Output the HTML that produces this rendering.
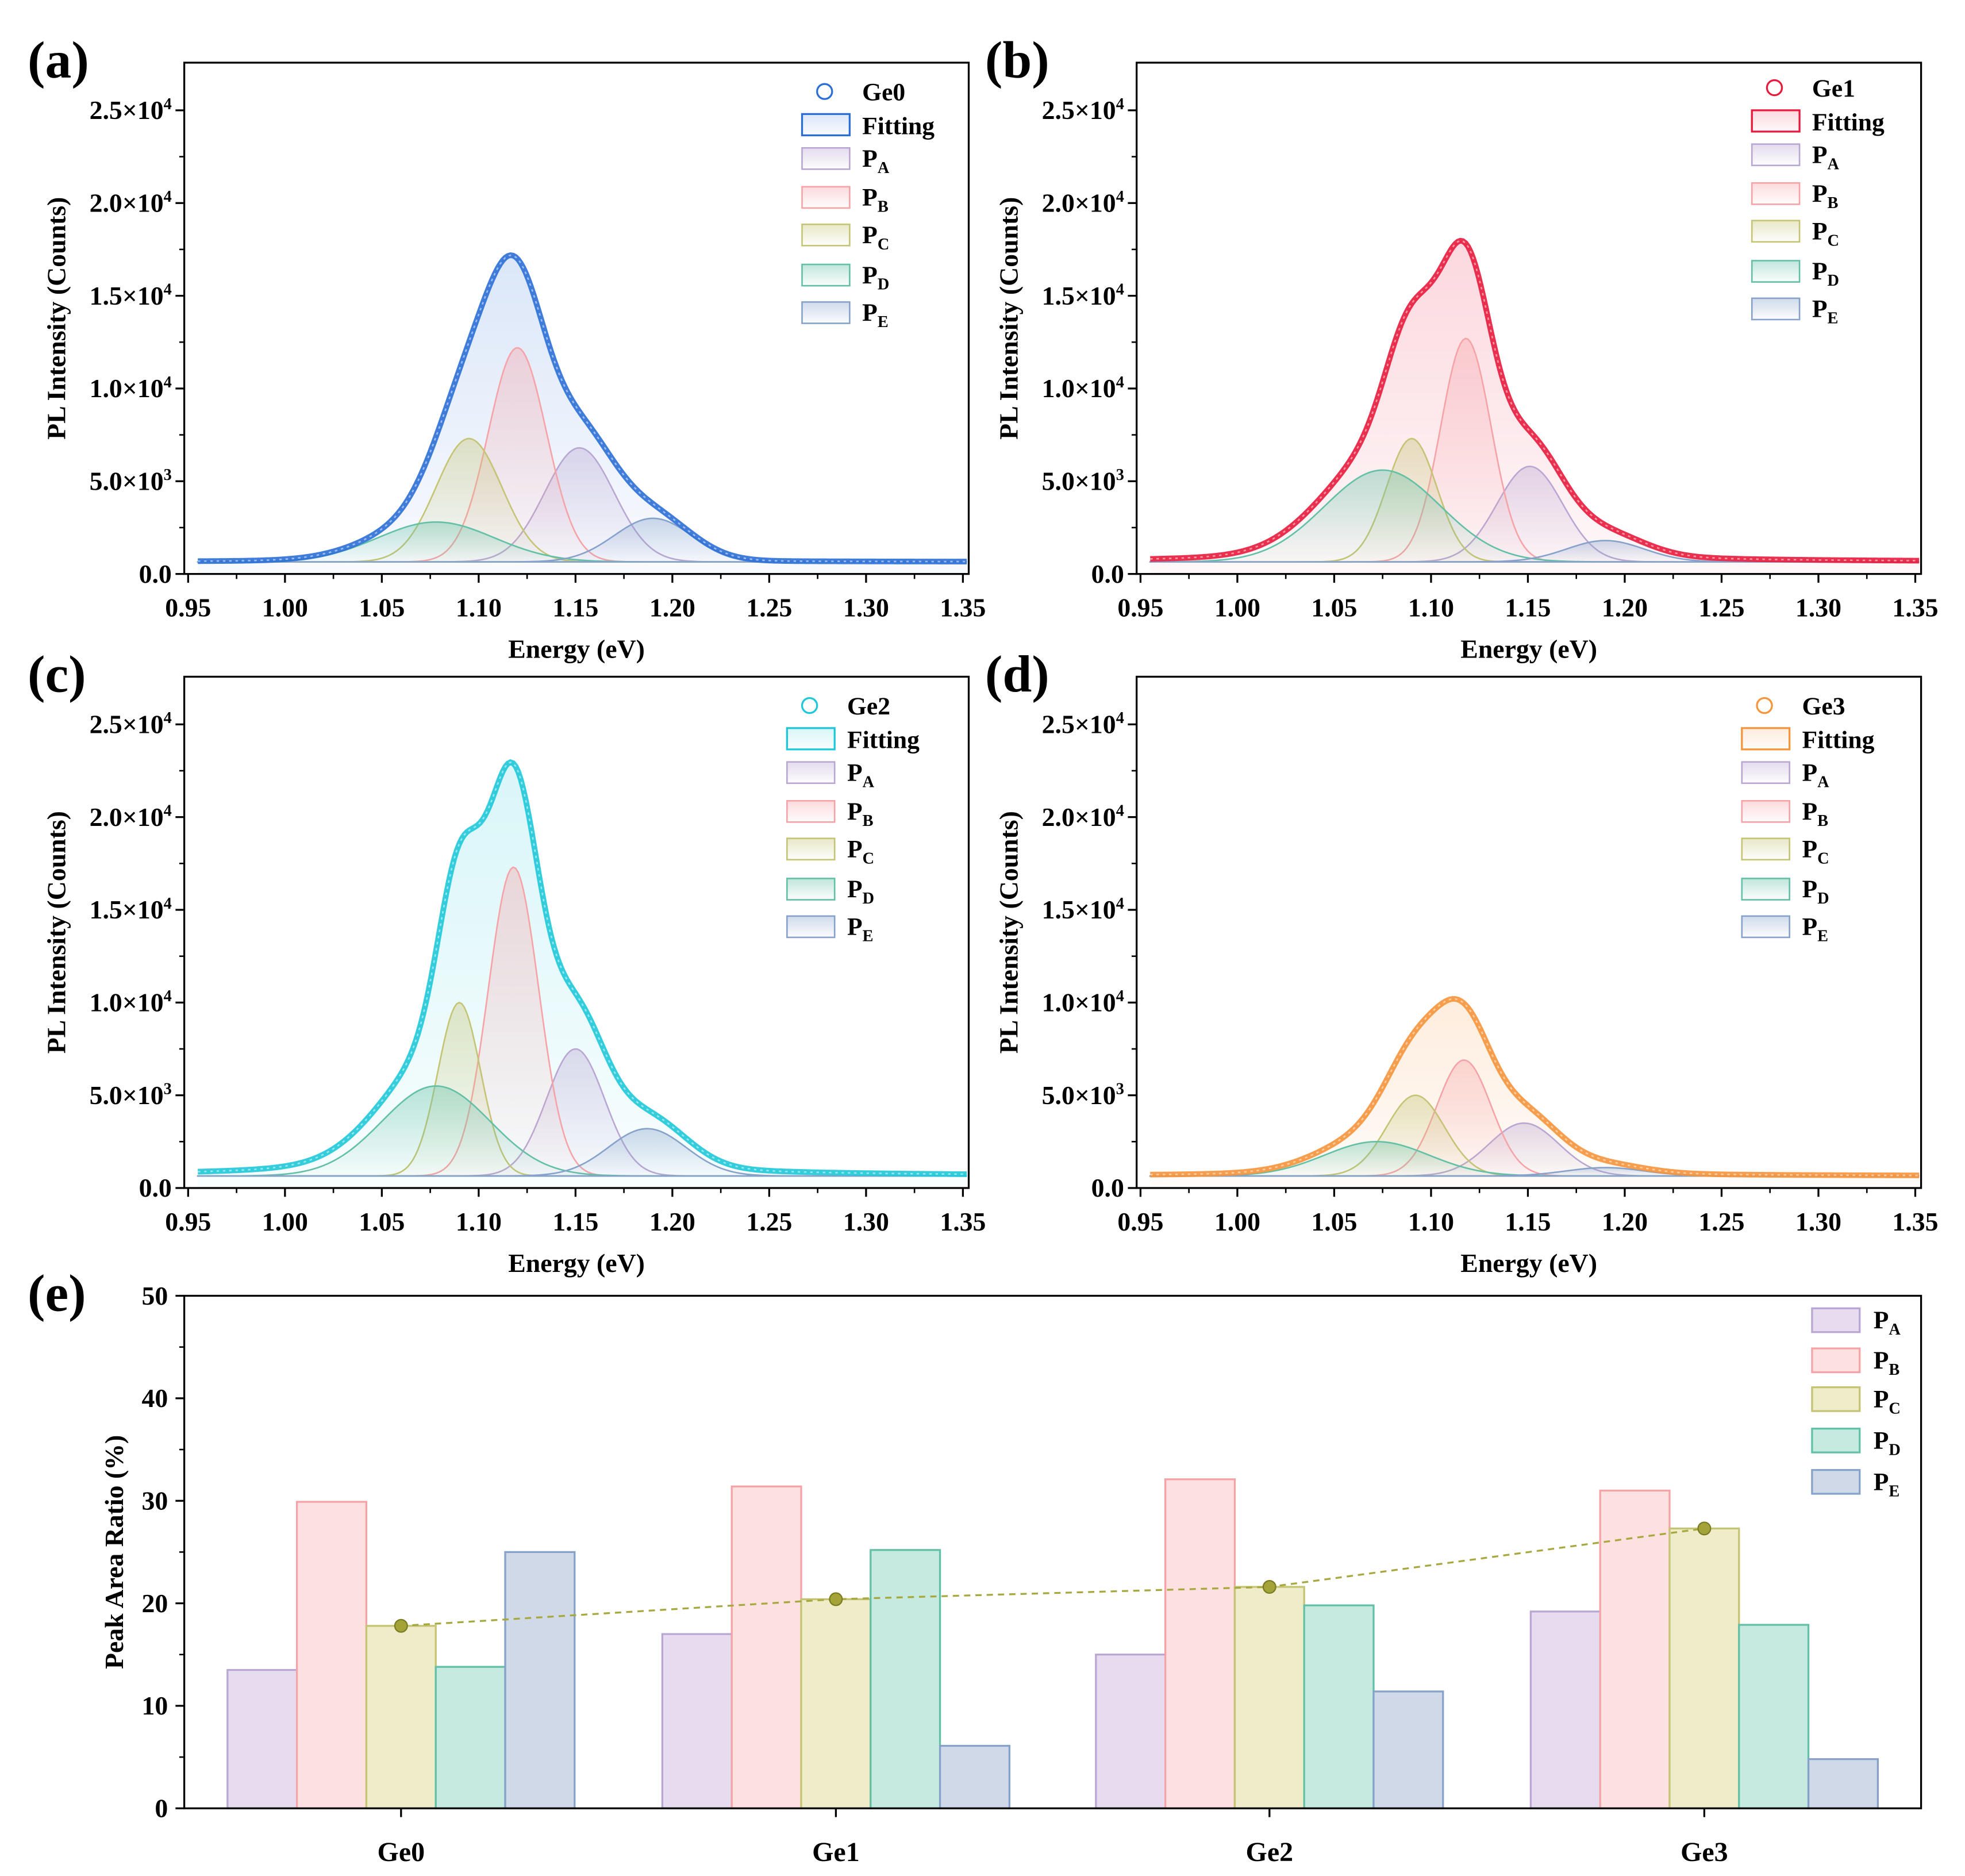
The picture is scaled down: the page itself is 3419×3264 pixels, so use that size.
<!DOCTYPE html>
<html><head><meta charset="utf-8">
<style>
html,body{margin:0;padding:0;background:#fff;}
svg{display:block;font-family:"Liberation Serif",serif;font-weight:bold;}
</style></head>
<body>
<svg id="fig" xmlns="http://www.w3.org/2000/svg" width="3419" height="3264" viewBox="0 0 1568 1497">
<defs id="defs"></defs>
</svg>
<script>
// ---------- data ----------
const sampleNames = ["Ge0","Ge1","Ge2","Ge3"];
const peakNames = ["PA","PB","PC","PD","PE"];
const peakSubs = ["A","B","C","D","E"];
// fitted peak parameters (center eV, peak height counts incl. baseline, sigma eV)
const centersGe0 = [1.152,1.120,1.095,1.078,1.190];
const heightsGe0 = [6800,12200,7300,2800,3000];
const sigmasGe0  = [0.018,0.015,0.017,0.030,0.020];
const centersGe1 = [1.151,1.118,1.090,1.075,1.190];
const heightsGe1 = [5800,12700,7300,5600,1800];
const sigmasGe1  = [0.017,0.013,0.013,0.030,0.020];
const centersGe2 = [1.150,1.118,1.090,1.078,1.187];
const heightsGe2 = [7500,17300,10000,5500,3200];
const sigmasGe2  = [0.015,0.013,0.011,0.028,0.020];
const centersGe3 = [1.148,1.117,1.092,1.072,1.190];
const heightsGe3 = [3500,6900,5000,2500,1100];
const sigmasGe3  = [0.018,0.014,0.015,0.027,0.020];
// extra broad (Lorentzian) background component per sample
const tailAmps = [500,2000,2900,900];
const baseline = 650;
const xTicks = [0.95,1.00,1.05,1.10,1.15,1.20,1.25,1.30,1.35];
const yTicks = [0,5000,10000,15000,20000,25000];
const yTickLabels = ["0.0","5.0×10<tspan dy='-8' font-size='13'>3</tspan>","1.0×10<tspan dy='-8' font-size='13'>4</tspan>","1.5×10<tspan dy='-8' font-size='13'>4</tspan>","2.0×10<tspan dy='-8' font-size='13'>4</tspan>","2.5×10<tspan dy='-8' font-size='13'>4</tspan>"];
// bar chart (e)
const ratioPA = [13.5,17.0,15.0,19.2];
const ratioPB = [29.9,31.4,32.1,31.0];
const ratioPC = [17.8,20.4,21.6,27.3];
const ratioPD = [13.8,25.2,19.8,17.9];
const ratioPE = [25.0,6.1,11.4,4.8];
const ratioTicks = [0,10,20,30,40,50];

// ---------- styling ----------
const peakFill = ["#e7dcef","#fde1e1","#eeecc9","#c6e9e0","#cfd9e7"];
const peakStroke = ["#b9a6d2","#f6a3a8","#c5c474","#62c0a6","#86a2cb"];
const dataColor = ["#2b6fd6","#e8193c","#1ec8d8","#f5943a"];
const NS="http://www.w3.org/2000/svg";
const svg=document.getElementById('fig');
const defs=document.getElementById('defs');
function el(tag,attrs,parent){const e=document.createElementNS(NS,tag);for(const k in attrs)e.setAttribute(k,attrs[k]);(parent||svg).appendChild(e);return e;}
function grad(id,color,op){const g=el('linearGradient',{id:id,x1:0,y1:0,x2:0,y2:1},defs);el('stop',{offset:'0','stop-color':color,'stop-opacity':op},g);el('stop',{offset:'1','stop-color':color,'stop-opacity':0.03},g);}
peakStroke.forEach((c,i)=>grad('pg'+i,c,0.4));
dataColor.forEach((c,i)=>grad('fg'+i,c,0.17));

const panels=[
 {L:147,R:773,T:50,B:458,label:"(a)",lx:22,ly:62,legX:640,legY:73,c:centersGe0,h:heightsGe0,s:sigmasGe0},
 {L:907,R:1533,T:50,B:458,label:"(b)",lx:786,ly:62,legX:1398,legY:70,c:centersGe1,h:heightsGe1,s:sigmasGe1},
 {L:147,R:773,T:540,B:948,label:"(c)",lx:22,ly:552,legX:628,legY:563,c:centersGe2,h:heightsGe2,s:sigmasGe2},
 {L:907,R:1533,T:540,B:948,label:"(d)",lx:786,ly:552,legX:1390,legY:563,c:centersGe3,h:heightsGe3,s:sigmasGe3},
];
const X0=0.948,X1=1.353,Y1=27570;

panels.forEach((p,pi)=>{
  const g=el('g',{});
  
  
  const xs=e=>p.L+(e-X0)/(X1-X0)*(p.R-p.L);
  const ys=v=>p.B-v/Y1*(p.B-p.T);
  const gauss=(i,e)=>(p.h[i]-baseline)*Math.exp(-0.5*Math.pow((e-p.c[i])/p.s[i],2));
  const tail=e=>tailAmps[pi]/(1+Math.pow((e-1.108)/0.045,2));
  const N=300,es=[];for(let k=0;k<=N;k++)es.push(0.955+k*(1.352-0.955)/N);
  const tot=e=>baseline+tail(e)+peakNames.reduce((a,_,i)=>a+gauss(i,e),0);
  let d='M'+xs(es[0])+','+ys(0);es.forEach(e=>d+=' L'+xs(e).toFixed(2)+','+ys(tot(e)).toFixed(2));d+=' L'+xs(es[N])+','+ys(0)+'Z';
  const fa=el('path',{d:d,fill:'url(#fg'+pi+')',stroke:'none'},g);
  
  
  peakNames.forEach((n,i)=>{
    let pd='M'+xs(es[0])+','+ys(baseline);
    es.forEach(e=>pd+=' L'+xs(e).toFixed(2)+','+ys(baseline+gauss(i,e)).toFixed(2));
    pd+=' L'+xs(es[N])+','+ys(baseline)+'Z';
    const pk=el('path',{d:pd,fill:'url(#pg'+i+')',stroke:peakStroke[i],'stroke-width':1.2},g);
    
    
  });
  let ld='';es.forEach((e,k)=>ld+=(k?' L':'M')+xs(e).toFixed(2)+','+ys(tot(e)).toFixed(2));
  const ln=el('path',{d:ld,fill:'none',stroke:dataColor[pi],'stroke-width':4.5,opacity:0.9},g);
  
  
  el('path',{d:ld,fill:'none',stroke:'#fff','stroke-width':1.2,opacity:0.5,'stroke-dasharray':'2 3'},g);
  el('rect',{x:p.L,y:p.T,width:p.R-p.L,height:p.B-p.T,fill:'none',stroke:'#000','stroke-width':1.5},g);
  xTicks.forEach(t=>{const x=xs(t);el('line',{x1:x,x2:x,y1:p.B,y2:p.B+7,stroke:'#000','stroke-width':1.5},g);
    const tx=el('text',{x:x,y:p.B+34,'font-size':21,'text-anchor':'middle'},g);tx.textContent=t.toFixed(2);
    
    const xm=xs(t+0.025);if(t<1.34)el('line',{x1:xm,x2:xm,y1:p.B,y2:p.B+4,stroke:'#000','stroke-width':1.2},g);});
  yTicks.forEach((t,i)=>{const y=ys(t);el('line',{x1:p.L-7,x2:p.L,y1:y,y2:y,stroke:'#000','stroke-width':1.5},g);
    const ym=ys(t+2500);if(t<25000)el('line',{x1:p.L-4,x2:p.L,y1:ym,y2:ym,stroke:'#000','stroke-width':1.2},g);
    const tx=el('text',{x:p.L-10,y:y+7,'font-size':21,'text-anchor':'end'},g);tx.innerHTML=yTickLabels[i];
    });
  const xt=el('text',{x:(p.L+p.R)/2,y:p.B+67,'font-size':21,'text-anchor':'middle'},g);xt.textContent='Energy (eV)';
  
  const yc=(p.T+p.B)/2;
  const yt=el('text',{x:p.L-95,y:yc,'font-size':21,'text-anchor':'middle',transform:'rotate(-90 '+(p.L-95)+' '+yc+')'},g);yt.textContent='PL Intensity (Counts)';
  
  const pl=el('text',{x:p.lx,y:p.ly,'font-size':42},g);pl.textContent=p.label;
  
  const lg=el('g',{},g);
  
  const lx=p.legX,ly=p.legY;
  el('circle',{cx:lx+18,cy:ly,r:6,fill:'none',stroke:dataColor[pi],'stroke-width':1.5},lg);
  let t=el('text',{x:lx+48,y:ly+7,'font-size':20},lg);t.textContent=sampleNames[pi];
  el('rect',{x:lx,y:ly+18,width:38,height:17,fill:'url(#fg'+pi+')',stroke:dataColor[pi],'stroke-width':1.5},lg);
  t=el('text',{x:lx+48,y:ly+34,'font-size':20},lg);t.textContent='Fitting';
  const off=[54,85,115,147,177];
  peakNames.forEach((n,i)=>{
    el('rect',{x:lx,y:ly+off[i]-9,width:38,height:17,fill:'url(#pg'+i+')',stroke:peakStroke[i],'stroke-width':1.2},lg);
    const tt=el('text',{x:lx+48,y:ly+off[i]+6,'font-size':20},lg);tt.innerHTML='P<tspan dy="5" font-size="13">'+peakSubs[i]+'</tspan>';
  });
});

// ---------- panel (e) ----------
(function(){
  const g=el('g',{});
  
  
  const L=147,R=1533,T=1034,B=1443;
  const ys=v=>B-v/50*(B-T);
  const centers=[320,667,1013,1360],bw=55.4;
  const series=[ratioPA,ratioPB,ratioPC,ratioPD,ratioPE];
  sampleNames.forEach((s,gi)=>{
    series.forEach((arr,si)=>{
      const x=centers[gi]+(si-2.5)*bw;
      const r=el('rect',{x:x,y:ys(arr[gi]),width:bw,height:B-ys(arr[gi]),fill:peakFill[si],stroke:peakStroke[si],'stroke-width':1.5},g);
      
      
    });
    const tx=el('text',{x:centers[gi],y:B+42,'font-size':22,'text-anchor':'middle'},g);tx.textContent=s;
    
    el('line',{x1:centers[gi],x2:centers[gi],y1:B,y2:B+7,stroke:'#000','stroke-width':1.5},g);
  });
  let d='';ratioPC.forEach((v,i)=>d+=(i?' L':'M')+centers[i]+','+ys(v));
  const tl=el('path',{d:d,fill:'none',stroke:'#a8a840','stroke-width':1.5,'stroke-dasharray':'5 4'},g);
  
  ratioPC.forEach((v,i)=>{const c=el('circle',{cx:centers[i],cy:ys(v),r:5,fill:'#a3a33a',stroke:'#7a7a20','stroke-width':1},g);
    });
  el('rect',{x:L,y:T,width:R-L,height:B-T,fill:'none',stroke:'#000','stroke-width':1.5},g);
  ratioTicks.forEach(t=>{const y=ys(t);el('line',{x1:L-7,x2:L,y1:y,y2:y,stroke:'#000','stroke-width':1.5},g);
    if(t<50){const ym=ys(t+5);el('line',{x1:L-4,x2:L,y1:ym,y2:ym,stroke:'#000','stroke-width':1.2},g);}
    const tx=el('text',{x:L-13,y:y+7,'font-size':21,'text-anchor':'end'},g);tx.textContent=t;
    });
  const yc=(T+B)/2;
  const yt=el('text',{x:98,y:yc,'font-size':21,'text-anchor':'middle',transform:'rotate(-90 98 '+yc+')'},g);yt.textContent='Peak Area Ratio (%)';
  
  const pl=el('text',{x:22,y:1046,'font-size':42},g);pl.textContent='(e)';
  
  const lg=el('g',{},g);
  
  const ly=[1054,1086,1117,1150,1183];
  peakNames.forEach((n,i)=>{
    el('rect',{x:1446,y:ly[i]-10,width:38,height:19,fill:peakFill[i],stroke:peakStroke[i],'stroke-width':1.5},lg);
    const tt=el('text',{x:1495,y:ly[i]+6,'font-size':20},lg);tt.innerHTML='P<tspan dy="5" font-size="13">'+peakSubs[i]+'</tspan>';
  });
})();
</script>
</body></html>
